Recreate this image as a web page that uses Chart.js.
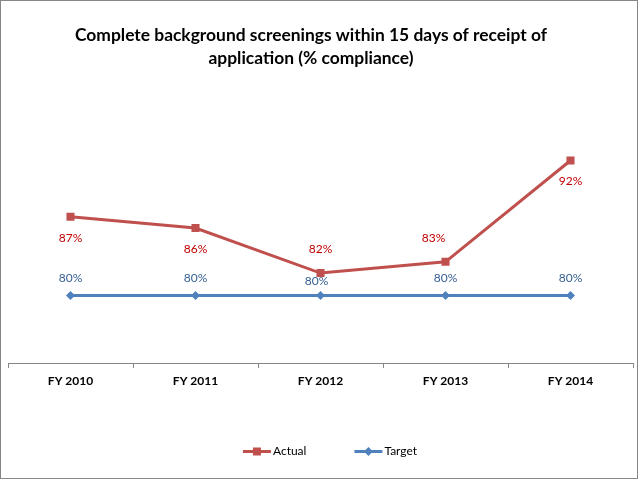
<!DOCTYPE html>
<html><head><meta charset="utf-8">
<script src="https://cdn.jsdelivr.net/npm/chart.js@4/dist/chart.umd.min.js"></script>
<style>html,body{margin:0;padding:0;background:#fff}#wrap{width:640px;height:481px;position:relative}</style>
</head><body><div id="wrap"><canvas id="c" width="640" height="481"></canvas></div>
<script>
const titleLines = ['Complete background screenings within 15 days of receipt of', 'application (% compliance)'];
const categories = ['FY 2010', 'FY 2011', 'FY 2012', 'FY 2013', 'FY 2014'];
const actualValues = [87, 86, 82, 83, 92];
const targetValues = [80, 80, 80, 80, 80];
const seriesNames = ['Actual', 'Target'];
const yMin = 74, yMax = 94;

const FONT = 'Lato, "Liberation Sans", sans-serif';
const RED = '#C0504D', BLUE = '#4F81BD';
const RED_TXT = '#C00000', BLUE_TXT = '#376092';

// label placement (style only)
const placement = [
  {pos: ['below', 'below', 'above', 'above', 'below'], dx: [0, 0, 0, -12, 0]},
  {pos: ['above', 'above', 'above', 'above', 'above'], dx: [0, 0, -4, 0, 0]}
];

const framePlugin = {
  id: 'frame',
  beforeDraw(chart) {
    const ctx = chart.ctx;
    ctx.save(); ctx.fillStyle = '#fff'; ctx.fillRect(0, 0, chart.width, chart.height); ctx.restore();
  },
  afterDraw(chart) {
    const ctx = chart.ctx;
    ctx.save();
    ctx.strokeStyle = '#868686'; ctx.lineWidth = 1;
    ctx.strokeRect(0.5, 0.5, 637, 478);
    ctx.restore();
  }
};

const titlePlugin = {
  id: 'xlTitle',
  afterDraw(chart) {
    const ctx = chart.ctx;
    ctx.save();
    let size = 18;
    ctx.font = 'bold ' + size + 'px ' + FONT;
    const w = ctx.measureText(titleLines[0]).width;
    size = size * 472 / w;
    ctx.font = 'bold ' + size.toFixed(2) + 'px ' + FONT;
    ctx.fillStyle = '#000';
    ctx.textAlign = 'center'; ctx.textBaseline = 'middle';
    ctx.fillText(titleLines[0], 311, 35);
    ctx.fillText(titleLines[1], 311, 58);
    ctx.restore();
  }
};

const labelPlugin = {
  id: 'xlLabels',
  afterDatasetsDraw(chart) {
    const ctx = chart.ctx;
    ctx.save();
    ctx.font = '12px ' + FONT;
    ctx.textAlign = 'center'; ctx.textBaseline = 'middle';
    chart.data.datasets.forEach((ds, di) => {
      const meta = chart.getDatasetMeta(di);
      ctx.fillStyle = di === 0 ? RED_TXT : BLUE_TXT;
      meta.data.forEach((pt, i) => {
        const p = placement[di];
        let dy;
        if (p.pos[i] === 'below') dy = 21; else dy = di === 0 ? -24 : -17;
        if (di === 1 && i === 2) dy = -14;
        ctx.fillText(ds.data[i] + '%', pt.x + p.dx[i], pt.y + dy);
      });
    });
    ctx.restore();
  }
};

const legendPlugin = {
  id: 'xlLegend',
  afterDraw(chart) {
    const ctx = chart.ctx;
    ctx.save();
    ctx.font = '12px ' + FONT;
    ctx.textBaseline = 'middle';
    const y = 451.5;
    const lineW = 28, gapT = 2, gapItems = 48;
    const items = chart.data.datasets.map(ds => ({ds, tw: ctx.measureText(ds.label).width}));
    let total = 0;
    items.forEach((it, i) => { total += lineW + gapT + it.tw + (i < items.length - 1 ? gapItems : 0); });
    let x = 330 - total / 2;
    items.forEach((it) => {
      const ds = it.ds;
      ctx.strokeStyle = ds.borderColor; ctx.lineWidth = 3;
      ctx.beginPath(); ctx.moveTo(x, y); ctx.lineTo(x + lineW, y); ctx.stroke();
      ctx.fillStyle = ds.borderColor;
      const cx = x + lineW / 2;
      if (ds.pointStyle === 'rect') {
        ctx.fillRect(cx - 4, y - 4, 8, 8);
      } else {
        ctx.beginPath(); ctx.moveTo(cx, y - 4.5); ctx.lineTo(cx + 4.5, y); ctx.lineTo(cx, y + 4.5); ctx.lineTo(cx - 4.5, y); ctx.closePath(); ctx.fill();
      }
      ctx.fillStyle = '#000';
      ctx.fillText(ds.label, x + lineW + gapT, y);
      x += lineW + gapT + it.tw + gapItems;
    });
    ctx.restore();
  }
};

new Chart(document.getElementById('c'), {
  type: 'line',
  data: {
    labels: categories,
    datasets: [
      {label: seriesNames[0], data: actualValues, borderColor: RED, backgroundColor: RED,
       borderWidth: 3, pointStyle: 'rect', pointRadius: 5.7, pointBorderWidth: 0, tension: 0},
      {label: seriesNames[1], data: targetValues, borderColor: BLUE, backgroundColor: BLUE,
       borderWidth: 3, pointStyle: 'rectRot', pointRadius: 4.5, pointBorderWidth: 0, tension: 0}
    ]
  },
  options: {
    responsive: false,
    animation: false,
    devicePixelRatio: 1,
    layout: {padding: {top: 138, left: 8, right: 7, bottom: 86.5}},
    plugins: {legend: {display: false}, title: {display: false}, tooltip: {enabled: false}},
    scales: {
      x: {
        offset: true,
        grid: {offset: true, drawOnChartArea: false, drawTicks: true, tickLength: 5, color: '#868686'},
        border: {display: true, color: '#868686', width: 1},
        ticks: {padding: 6, color: '#000', font: {family: FONT, size: 12, weight: 'bold'}}
      },
      y: {display: false, min: yMin, max: yMax}
    }
  },
  plugins: [framePlugin, titlePlugin, labelPlugin, legendPlugin]
});
</script></body></html>
